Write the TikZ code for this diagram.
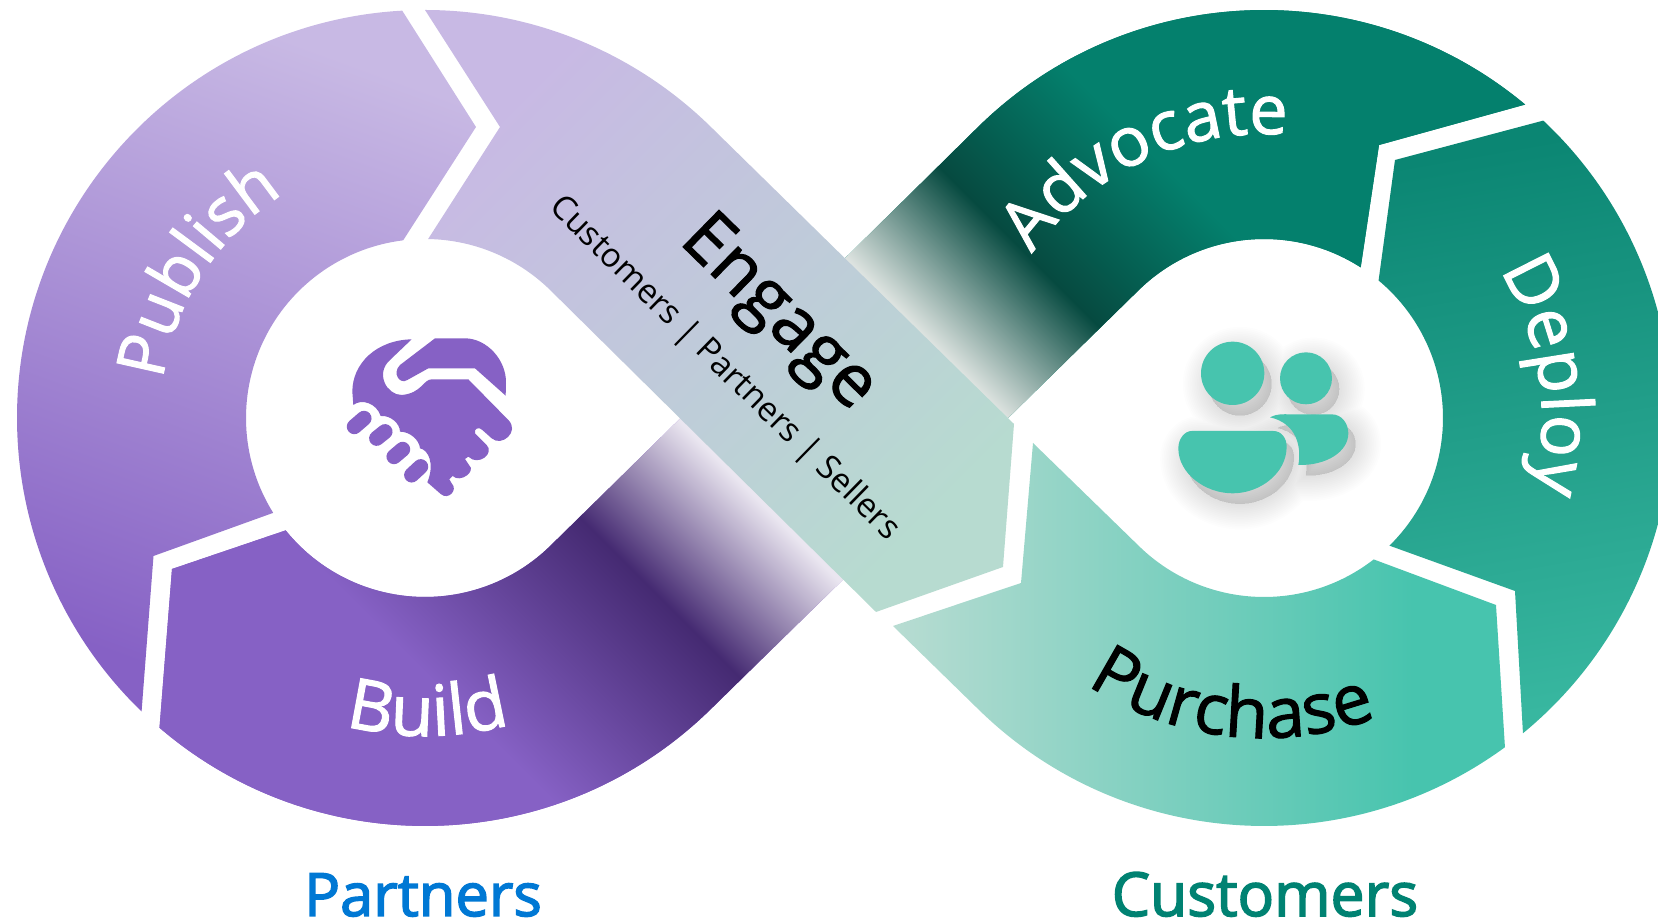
\documentclass[tikz,border=0pt]{standalone}
\usepackage{fontspec}
\setmainfont{Open Sans}
\newfontfamily\heavyfont[FakeBold=2.5]{Open Sans}
\newfontfamily\ringfont[FakeBold=1.5]{Open Sans}
\usetikzlibrary{decorations.text}
\definecolor{purplemain}{HTML}{8661C5}
\definecolor{purplelight}{HTML}{C8B9E4}
\definecolor{purpledark}{HTML}{452A72}
\definecolor{fadepurple}{HTML}{EAE6F0}
\definecolor{engagemint}{HTML}{B7DBD0}
\definecolor{tealdark}{HTML}{064A40}
\definecolor{tealmain}{HTML}{04806D}
\definecolor{fadeteal}{HTML}{DDE3E0}
\definecolor{deploytop}{HTML}{0B8673}
\definecolor{deploybottom}{HTML}{38B7A0}
\definecolor{mintmain}{HTML}{47C4AE}
\definecolor{mintpale}{HTML}{B8DCD2}
\definecolor{partnerblue}{HTML}{0078D4}
\definecolor{customergreen}{HTML}{008272}
\pgfdeclarehorizontalshading{buildfade}{100bp}{color(0bp)=(purplemain); color(45.54bp)=(purplemain); color(51.125bp)=(purpledark); color(54.64bp)=(fadepurple); color(100bp)=(fadepurple)}
\pgfdeclarehorizontalshading{advocatefade}{100bp}{color(0bp)=(fadeteal); color(46.2bp)=(fadeteal); color(49.5bp)=(tealdark); color(53.57bp)=(tealmain); color(100bp)=(tealmain)}
\pgfdeclarehorizontalshading{purchasefade}{100bp}{color(0bp)=(mintpale); color(25bp)=(mintpale); color(67.5bp)=(mintmain); color(100bp)=(mintmain)}
\def\buildpath{([shift={(229.4:408)}]lcen) arc[start angle=229.4,end angle=314.4,radius=408] -- (860,360) -- (700,524) -- ([shift={(314.4:179)}]lcen) arc[start angle=314.4,end angle=218.9,radius=179] -- (172,354) -- cycle}
\def\advocatepath{([shift={(50.2:408)}]rcen) arc[start angle=50.2,end angle=134.4,radius=408] -- (830,650) -- (1000,497) -- ([shift={(134.4:179)}]rcen) arc[start angle=134.4,end angle=57.3,radius=179] -- (1379,778) -- cycle}
\def\peoplepath{(248,160) circle[radius=95] (468,175) circle[radius=78]
	(125,333) -- (370,333) .. controls (395,333) and (410,355) .. (410,380) .. controls (410,460) and (330,520) .. (248,520) .. controls (165,520) and (85,460) .. (85,385) .. controls (85,355) and (105,333) .. (125,333) -- cycle
	(360,292) .. controls (385,280) and (400,283) .. (420,283) -- (545,283) .. controls (575,283) and (595,310) .. (595,340) .. controls (595,395) and (530,437) .. (445,435) .. controls (455,380) and (440,310) .. (360,292) -- cycle}
\begin{document}
\begin{tikzpicture}[x=0.02cm,y=0.02cm,
		ringlabel/.style={decorate,decoration={text along path,text align=center,text={#1}}},
		finger/.style={line width=8.6pt,line cap=round,draw=purplemain},
		fadeband/.style={inner sep=0pt,minimum width=28cm,minimum height=28cm,rotate=45}]
	\useasboundingbox (0,0) rectangle (1658,923);
	\clip (0,0) rectangle (1658,923);
	\coordinate (lcen) at (425,505);
	\coordinate (rcen) at (1264,505);
	\fill[purplemain] \buildpath;
	\begin{scope}
		\clip \buildpath;
		\node[fadeband,shading=buildfade,shading angle=45] (buildshade) at (650,273) {};
	\end{scope}
	\fill[tealmain] \advocatepath;
	\begin{scope}
		\clip \advocatepath;
		\node[fadeband,shading=advocatefade,shading angle=45] (advocateshade) at (1100,623) {};
	\end{scope}
	\shade[top color=purplelight,bottom color=purplemain,shading angle=-20]
		([shift={(93.2:408)}]lcen) arc[start angle=93.2,end angle=226,radius=408] -- (153.5,367)
		-- ([shift={(212:179)}]lcen) arc[start angle=212,end angle=97,radius=179] -- (476,796) -- cycle;
	\shade[top color=purplelight,bottom color=engagemint,shading angle=45]
		([shift={(90:408)}]lcen) arc[start angle=90,end angle=45.6,radius=408] -- (1014,499) -- (1003,356) -- (876,311)
		-- ([shift={(45.6:179)}]lcen) arc[start angle=45.6,end angle=89,radius=179] -- (500,796) -- cycle;
	\shade[top color=deploytop,bottom color=deploybottom,shading angle=10]
		([shift={(46.8:408)}]rcen) arc[start angle=46.8,end angle=-50.6,radius=408] -- (1515,332)
		-- ([shift={(-45.5:179)}]rcen) arc[start angle=-45.5,end angle=50.2,radius=179] -- (1395,763) -- cycle;
	\shade[shading=purchasefade]
		([shift={(306.2:408)}]rcen) arc[start angle=306.2,end angle=225.6,radius=408] -- (893,297) -- (1021,340) -- (1033,480)
		-- ([shift={(225.6:179)}]rcen) arc[start angle=225.6,end angle=307.8,radius=179] -- (1496,318) -- cycle;
	\begin{scope}[shift={(320,613)},xscale=1/3,yscale=-1/3]
		\fill[purplemain] (275,88) .. controls (170,90) and (97,160) .. (97,245) -- (100,285) .. controls (125,265) and (170,280) .. (182,318) .. controls (210,315) and (240,340) .. (240,365) .. controls (270,365) and (298,390) .. (300,415) .. controls (325,420) and (345,460) .. (322,517) -- (362,552) .. controls (385,572) and (415,540) .. (395,520) -- (388,508) -- (398,498) .. controls (420,520) and (470,485) .. (447,465) -- (435,447) -- (445,440) .. controls (475,470) and (525,430) .. (500,405) -- (465,370) .. controls (460,355) and (478,350) .. (487,360) -- (515,385) .. controls (545,412) and (600,365) .. (565,330) -- (445,208) -- (335,208) .. controls (310,208) and (305,250) .. (245,255) .. controls (200,255) and (165,190) .. (210,150) -- cycle;
		\fill[purplemain] (345,85) -- (435,85) .. controls (500,85) and (560,150) .. (558,220) -- (557,257) -- (465,175) -- (325,175) -- (262,210) .. controls (240,225) and (215,190) .. (240,165) -- cycle;
		\draw[finger] (103,350) -- (132,325);
		\draw[finger] (170,385) -- (195,365);
		\draw[finger] (222,440) -- (248,418);
		\draw[finger] (275,495) -- (302,470);
	\end{scope}
	\begin{scope}[shift={(1150,603)},xscale=1/3,yscale=-1/3]
		\begin{scope}[shift={(22,32)}]
			\foreach \w in {1,3,...,29}
				\path[fill=black,draw=black,opacity=0.008,line width=\w pt] \peoplepath;
		\end{scope}
		\fill[mintmain] \peoplepath;
	\end{scope}
	\path[ringlabel={|\ringfont\fontsize{38}{38}\selectfont\color{white}|Publish}] ([shift={(172:265)}]lcen) arc[start angle=172,end angle=122,radius=265];
	\path[ringlabel={|\ringfont\fontsize{40}{40}\selectfont\color{white}|Build}] ([shift={(252:318)}]lcen) arc[start angle=252,end angle=289,radius=318];
	\path[ringlabel={|\ringfont\fontsize{39}{39}\selectfont\color{white}|Advocate}] ([shift={(150:284)}]rcen) arc[start angle=150,end angle=80,radius=284];
	\path[ringlabel={|\ringfont\fontsize{40}{40}\selectfont\color{white}|Deploy}] ([shift={(36:278)}]rcen) arc[start angle=36,end angle=-19,radius=278];
	\path[ringlabel={|\ringfont\fontsize{40}{40}\selectfont\color{black}|Purchase}] ([shift={(233:320)}]rcen) arc[start angle=233,end angle=294,radius=320];
	\node[rotate=-44.4,inner sep=0pt,font=\ringfont\fontsize{41}{41}\selectfont] (engage) at (777,608) {Engage};
	\node[rotate=-44.4,inner sep=0pt,font=\fontsize{19}{19}\selectfont] (audience) at (724,554) {Customers | Partners | Sellers};
	\node[anchor=base,inner sep=0pt,text=partnerblue,font=\heavyfont\fontsize{34}{34}\selectfont] (partners) at (423,7) {Partners};
	\node[anchor=base,inner sep=0pt,text=customergreen,font=\heavyfont\fontsize{34.5}{34.5}\selectfont] (customers) at (1265,7) {Customers};
\end{tikzpicture}
\end{document}
